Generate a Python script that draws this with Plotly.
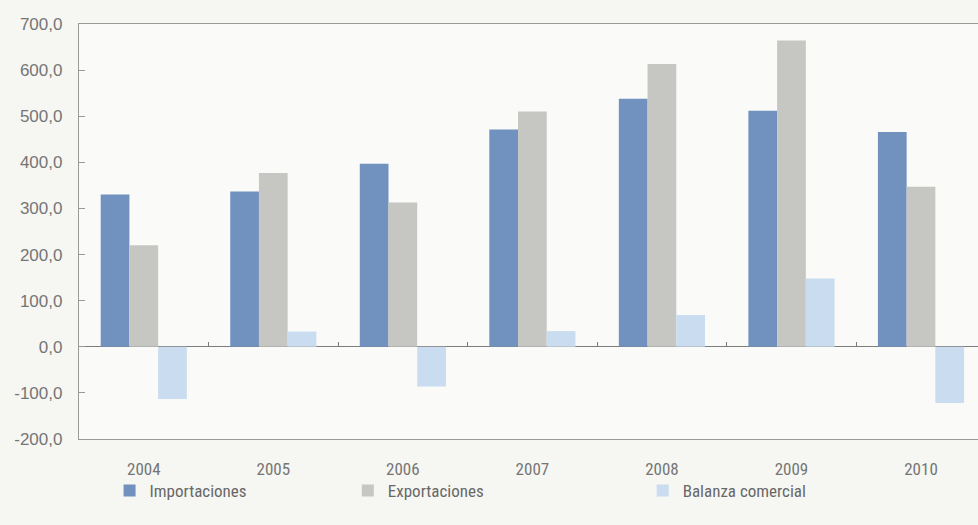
import plotly.graph_objects as go

# Comercio exterior por año (valores en millones)
years = ["2004", "2005", "2006", "2007", "2008", "2009", "2010"]
importaciones = [330, 337, 397, 471, 538, 512, 466]
exportaciones = [220, 377, 313, 510, 613, 664, 347]
balanza = [-113, 33, -86, 34, 69, 148, -122]

y_ticks = [-200, -100, 0, 100, 200, 300, 400, 500, 600, 700]
y_tick_text = ["-200,0", "-100,0", "0,0", "100,0", "200,0", "300,0",
               "400,0", "500,0", "600,0", "700,0"]

series = [
    ("Importaciones", importaciones, "#7191be", "legend"),
    ("Exportaciones", exportaciones, "#c6c6c3", "legend2"),
    ("Balanza comercial", balanza, "#cadcef", "legend3"),
]

NARROW = "Liberation Sans Narrow, Roboto Condensed, Arial Narrow, sans-serif"
REGULAR = "Liberation Sans, Arial, sans-serif"
TXT = "#757575"
AX = "#9a9a98"

fig = go.Figure()
for name, vals, color, lg in series:
    fig.add_trace(go.Bar(x=years, y=vals, name=name, marker_color=color,
                         marker_line_width=0, legend=lg))

# invisible helper trace so the zero-line tick axis is rendered
fig.add_trace(go.Scatter(x=years, y=[0] * len(years), xaxis="x2", mode="markers",
                         marker=dict(opacity=0), showlegend=False, hoverinfo="skip"))

x_range = [-0.5, 6.44]
fig.update_layout(
    width=978, height=525,
    margin=dict(l=79, r=0, t=24, b=86),
    paper_bgcolor="#f6f7f3",
    plot_bgcolor="#fafbf8",
    barmode="group",
    bargap=0.335,
    bargroupgap=0,
    font=dict(family=NARROW, color=TXT, size=15),
    xaxis=dict(range=x_range, showline=True, mirror=True, linecolor=AX, linewidth=1.3,
               ticks="", showgrid=False, ticklabelstandoff=14,
               tickfont=dict(family=NARROW, size=17, color=TXT)),
    xaxis2=dict(range=x_range, overlaying="x", anchor="free",
                position=200 / 900, tickmode="array",
                tickvals=[0.5, 1.5, 2.5, 3.5, 4.5, 5.5], ticks="inside",
                ticklen=5, tickcolor="#7a7a78", showticklabels=False,
                showline=False, showgrid=False, zeroline=False, fixedrange=True),
    yaxis=dict(range=[-200, 700], tickmode="array", tickvals=y_ticks,
               ticktext=y_tick_text, showline=True, linecolor=AX, linewidth=1.3,
               ticks="inside", ticklen=6, tickcolor=AX, showgrid=False,
               zeroline=True, zerolinecolor="#7d7d7b", zerolinewidth=1.3,
               ticklabelstandoff=12, tickfont=dict(family=REGULAR, size=17, color=TXT)),
    showlegend=True,
)

legend_common = dict(orientation="h", yanchor="middle", y=-0.125, xanchor="left",
                     bgcolor="rgba(0,0,0,0)",
                     font=dict(family=NARROW, size=17, color="#686868"),
                     itemwidth=30)
fig.update_layout(
    legend=dict(x=0.034, **legend_common),
    legend2=dict(x=0.299, **legend_common),
    legend3=dict(x=0.627, **legend_common),
)

fig.write_html("out.html")
